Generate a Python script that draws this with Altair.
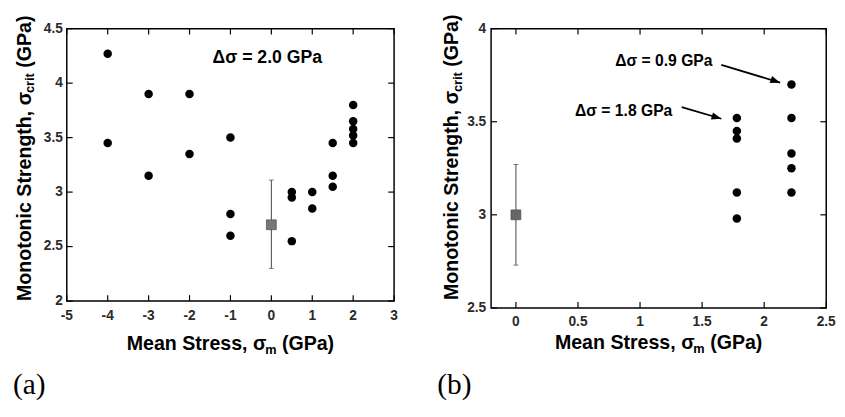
import altair as alt
import pandas as pd

# ---------------- data ----------------
# Panel (a): delta sigma = 2.0 GPa
a_mean = [-4, -4, -3, -3, -2, -2, -1, -1, -1, 0.5, 0.5, 0.5, 1, 1,
          1.5, 1.5, 1.5, 2, 2, 2, 2, 2]
a_strength = [4.27, 3.45, 3.90, 3.15, 3.90, 3.35, 3.50, 2.80, 2.60,
              3.00, 2.95, 2.55, 3.00, 2.85, 3.45, 3.15, 3.05,
              3.80, 3.65, 3.58, 3.52, 3.45]
a_mono_mean = [0]
a_mono_strength = [2.70]
a_mono_low = [2.30]
a_mono_high = [3.11]

# Panel (b)
b_mean = [1.78, 1.78, 1.78, 1.78, 1.78, 2.22, 2.22, 2.22, 2.22, 2.22]
b_strength = [3.52, 3.45, 3.41, 3.12, 2.98, 3.70, 3.52, 3.33, 3.25, 3.12]
b_mono_mean = [0]
b_mono_strength = [3.00]
b_mono_low = [2.73]
b_mono_high = [3.27]

a_xticks = [-5, -4, -3, -2, -1, 0, 1, 2, 3]
a_yticks = [2, 2.5, 3, 3.5, 4, 4.5]
b_xticks = [0, 0.5, 1, 1.5, 2, 2.5]
b_yticks = [2.5, 3, 3.5, 4]

SANS = "Liberation Sans"
SERIF = "Liberation Serif"

# approximate Liberation Sans Bold advance widths (per 1000 em)
W = {"M": 833, "o": 611, "n": 611, "t": 333, "i": 278, "c": 556, " ": 278,
     "S": 667, "r": 389, "e": 556, "g": 611, "h": 611, ",": 278, "σ": 617,
     "(": 333, "G": 778, "P": 667, "a": 556, ")": 333, "m": 889, "s": 556}


def tw(s, size):
    return sum(W.get(ch, 556) for ch in s) * size / 1000.0


dummy = pd.DataFrame({"d": [0]})


def txt(s, x, y, size, angle=0, align="left", baseline="alphabetic",
        font=SANS, weight="bold", color="black"):
    kw = dict(font=font, fontSize=size, fontWeight=weight, color=color,
              align=align, baseline=baseline)
    if angle:
        kw["angle"] = angle
    return alt.Chart(dummy).mark_text(**kw).encode(
        x=alt.value(x), y=alt.value(y), text=alt.value(s))


def ytitle(x, ybottom, sub):
    size, ssize = 20, 13
    p1 = "Monotonic Strength, σ"
    p3 = "(GPa)"
    w1 = tw(p1, size)
    w2 = tw(sub, ssize)
    ws = tw(" ", size)
    return [
        txt(p1, x, ybottom, size, angle=270),
        txt(sub, x + 4, ybottom - w1, ssize, angle=270),
        txt(p3, x, ybottom - w1 - w2 - ws, size, angle=270),
    ]


def xtitle(xc, y, sub):
    size, ssize = 20, 13
    p1 = "Mean Stress, σ"
    p3 = "(GPa)"
    w1 = tw(p1, size)
    w2 = tw(sub, ssize)
    ws = tw(" ", size)
    w3 = tw(p3, size)
    x0 = xc - (w1 + w2 + ws + w3) / 2
    return [
        txt(p1, x0, y, size),
        txt(sub, x0 + w1, y + 4, ssize),
        txt(p3, x0 + w1 + w2 + ws, y, size),
    ]


def fmt(v):
    return ("%g" % v)


def panel(mean, strength, mx, my, mlo, mhi, xdom, ydom, xticks, yticks,
          w, h, ylabpad, xlabpad, square_color):
    pts = pd.DataFrame({"x": mean, "y": strength})
    mono = pd.DataFrame({"x": mx, "y": my, "lo": mlo, "hi": mhi})
    xt_df = pd.DataFrame({"tx": xticks, "lab": [fmt(v) for v in xticks]})
    yt_df = pd.DataFrame({"ty": yticks, "lab": [fmt(v) for v in yticks]})
    xs = alt.Scale(domain=xdom, nice=False, zero=False)
    ys = alt.Scale(domain=ydom, nice=False, zero=False)

    def X(f):
        return alt.X(f, scale=xs, axis=None)

    def Y(f):
        return alt.Y(f, scale=ys, axis=None)

    L = []
    # inward tick marks on all four sides
    tk = dict(color="black", thickness=1.2, size=6, opacity=1)
    L.append(alt.Chart(xt_df).mark_tick(orient="vertical", **tk).encode(
        x=X("tx:Q"), y=alt.value(h - 3)))
    L.append(alt.Chart(xt_df).mark_tick(orient="vertical", **tk).encode(
        x=X("tx:Q"), y=alt.value(3)))
    L.append(alt.Chart(yt_df).mark_tick(orient="horizontal", **tk).encode(
        y=Y("ty:Q"), x=alt.value(3)))
    L.append(alt.Chart(yt_df).mark_tick(orient="horizontal", **tk).encode(
        y=Y("ty:Q"), x=alt.value(w - 3)))
    # tick labels
    lab = dict(font=SANS, fontSize=14, fontWeight="bold", color="#2a2a2a")
    L.append(alt.Chart(xt_df).mark_text(align="center", baseline="top", **lab).encode(
        x=X("tx:Q"), y=alt.value(h + xlabpad), text="lab:N"))
    L.append(alt.Chart(yt_df).mark_text(align="right", baseline="middle", **lab).encode(
        y=Y("ty:Q"), x=alt.value(-ylabpad), text="lab:N"))

    L.append(alt.Chart(pts).mark_circle(size=75, color="black", opacity=1).encode(
        x=X("x:Q"), y=Y("y:Q")))
    L.append(alt.Chart(mono).mark_rule(color="#444444", strokeWidth=1).encode(
        x=X("x:Q"), y=Y("lo:Q"), y2="hi:Q"))
    for col in ["lo", "hi"]:
        L.append(alt.Chart(mono).mark_point(shape="stroke", size=25,
                                            color="#444444", strokeWidth=1).encode(
            x=X("x:Q"), y=Y(f"{col}:Q")))
    L.append(alt.Chart(mono).mark_square(size=100, color=square_color, opacity=1,
                                         stroke="#555555", strokeWidth=0.8).encode(
        x=X("x:Q"), y=Y("y:Q")))
    return L, xs, ys


ARROW = "M0,0 L-2,-0.75 L-2,0.75 Z"

# ---------------- panel (a) ----------------
AW, AH = 334, 278
la, xs_a, ys_a = panel(a_mean, a_strength, a_mono_mean, a_mono_strength,
                       a_mono_low, a_mono_high, [-5, 3], [2, 4.5],
                       a_xticks, a_yticks, AW, AH, 4, 8, "#777777")
ann_a = pd.DataFrame({"x": [-0.1], "y": [4.23], "t": ["Δσ = 2.0 GPa"]})
la.append(alt.Chart(ann_a).mark_text(font=SANS, fontSize=18, fontWeight="bold",
                                     baseline="middle", align="center",
                                     color="black").encode(
    x=alt.X("x:Q", scale=xs_a, axis=None),
    y=alt.Y("y:Q", scale=ys_a, axis=None), text="t:N"))
la += ytitle(-37, 278, "crit")
la += xtitle(167, 328, "m")
la.append(txt("(a)", -55, 373, 30, font=SERIF, weight="normal"))
pa = alt.layer(*la).properties(width=AW, height=AH)

# ---------------- panel (b) ----------------
BW, BH = 342, 285
lb, xs_b, ys_b = panel(b_mean, b_strength, b_mono_mean, b_mono_strength,
                       b_mono_low, b_mono_high, [-0.2, 2.5], [2.5, 4],
                       b_xticks, b_yticks, BW, BH, 5, 7, "#666666")
ann_b = pd.DataFrame({"x": [1.192, 0.868], "y": [3.824, 3.558],
                      "t": ["Δσ = 0.9 GPa", "Δσ = 1.8 GPa"]})
lb.append(alt.Chart(ann_b).mark_text(font=SANS, fontSize=16, fontWeight="bold",
                                     baseline="middle", align="center",
                                     color="black").encode(
    x=alt.X("x:Q", scale=xs_b, axis=None),
    y=alt.Y("y:Q", scale=ys_b, axis=None), text="t:N"))
arrows = pd.DataFrame({"x0": [1.655, 1.336], "y0": [3.805, 3.579],
                       "x1": [2.129, 1.655], "y1": [3.71, 3.516]})
lb.append(alt.Chart(arrows).mark_rule(color="black", strokeWidth=1.8).encode(
    x=alt.X("x0:Q", scale=xs_b, axis=None),
    y=alt.Y("y0:Q", scale=ys_b, axis=None),
    x2="x1:Q", y2="y1:Q"))
for i, ang in enumerate([18.4, 16.7]):
    lb.append(alt.Chart(arrows.iloc[[i]]).mark_point(
        shape=ARROW, size=100, filled=True, color="black", opacity=1,
        angle=ang).encode(
        x=alt.X("x1:Q", scale=xs_b, axis=None),
        y=alt.Y("y1:Q", scale=ys_b, axis=None)))
lb += ytitle(-34, 277, "crit")
lb += xtitle(171, 327, "m")
lb.append(txt("(b)", -55, 373, 30, font=SERIF, weight="normal"))
pb = alt.layer(*lb).properties(width=BW, height=BH)

chart = alt.hconcat(pa, pb, spacing=38).properties(
    padding={"left": 4, "top": 1, "right": 0, "bottom": 0},
    background="white",
).configure_view(stroke="black", strokeWidth=1.5)

chart.save("out.html", embed_options={"renderer": "svg", "actions": False})
